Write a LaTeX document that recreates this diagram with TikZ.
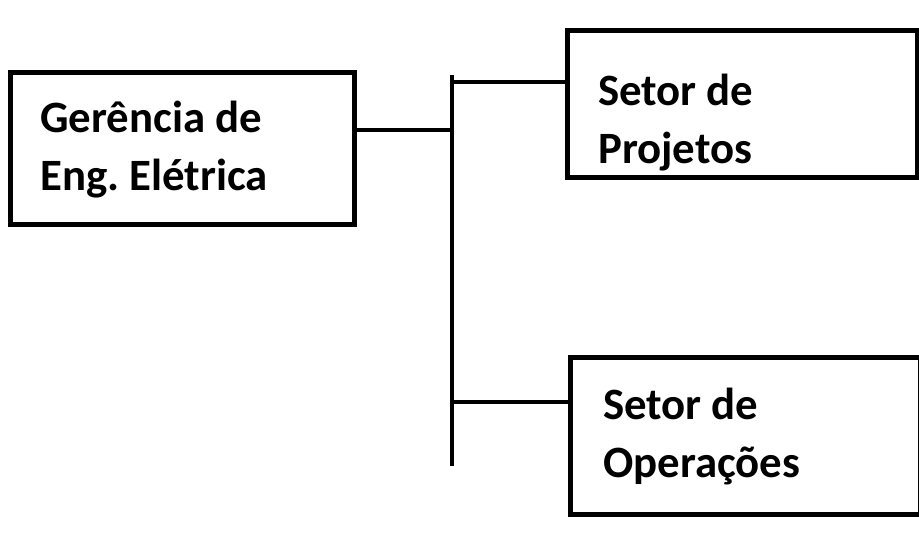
\documentclass[tikz,border=0pt]{standalone}
\usepackage{fontspec}
\setmainfont{Carlito}
\frenchspacing
\begin{document}
\begin{tikzpicture}[x=0.02cm,y=-0.02cm,
  box/.style={draw=black,line width=2.8pt,rectangle},
  lbl/.style={font=\fontsize{25.5}{33}\selectfont\bfseries,align=left,anchor=west},
  conn/.style={line width=2.8pt}]
\useasboundingbox (0,0) rectangle (919,543);
\node[box,minimum width=344*0.02cm,minimum height=152*0.02cm,anchor=north west] (g) at (8,70) {};
\node[box,minimum width=350*0.02cm,minimum height=147*0.02cm,anchor=north west] (p) at (565,28) {};
\node[box,minimum width=350*0.02cm,minimum height=157*0.02cm,anchor=north west] (o) at (568,355) {};
\node[lbl] (gt) at (34,150) {Gerência de\\Eng. Elétrica};
\node[lbl] (pt) at (592,123) {Setor de\\Projetos};
\node[lbl] (ot) at (597,437) {Setor de\\Operações};
\coordinate (vt) at (452,75);
\coordinate (vb) at (452,466);
\coordinate (vg) at (452,130);
\coordinate (vp) at (452,82);
\coordinate (vo) at (452,402);
\draw[conn] (vt) -- (vb);
\draw[conn] (g.east |- vg) -- (vg);
\draw[conn] (vp) -- (p.west |- vp);
\draw[conn] (vo) -- (o.west |- vo);
\end{tikzpicture}
\end{document}
